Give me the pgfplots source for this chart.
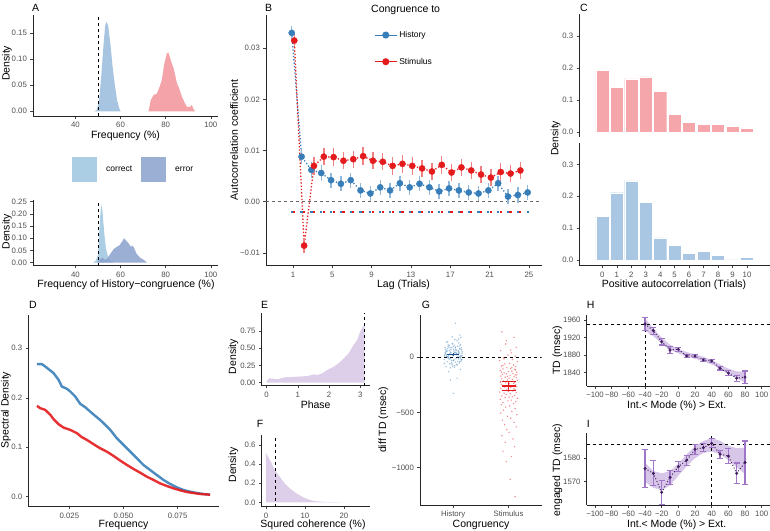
\documentclass[border=0pt]{standalone}
\usepackage{fontspec}
\setmainfont{Liberation Sans}
\setsansfont{Liberation Sans}
\usepackage{pgfplots}
\pgfplotsset{compat=1.18}

\definecolor{histblue}{RGB}{55,126,184}
\definecolor{stimred}{RGB}{228,26,28}
\definecolor{afblue}{RGB}{167,196,224}
\definecolor{afred}{RGB}{244,163,168}
\definecolor{corrc}{RGB}{172,206,229}
\definecolor{errc}{RGB}{138,160,205}
\definecolor{cred}{RGB}{244,166,170}
\definecolor{cblue}{RGB}{169,198,226}
\definecolor{purpfill}{RGB}{221,207,233}
\definecolor{purpband}{RGB}{216,198,233}
\definecolor{purperr}{RGB}{160,118,200}
\definecolor{purpdark}{RGB}{62,30,92}
\definecolor{ticktext}{RGB}{77,77,77}
\definecolor{histdark}{RGB}{30,80,140}

\newcommand\ttl{\fontsize{10.5}{12}\selectfont}

\pgfplotsset{gg/.style={
  scale only axis, anchor=south west,
  axis lines=left,
  axis line style={-, line width=0.6pt, black!85},
  tick style={line width=0.5pt, black!75},
  tick align=outside,
  major tick length=2.6pt,
  scaled ticks=false,
  tick label style={font=\fontsize{7.8}{9}\selectfont, text=ticktext},
  /pgf/number format/assume math mode=true,
  /pgf/number format/1000 sep={},
}}

\begin{document}
\begin{tikzpicture}
\useasboundingbox (0pt,0pt) rectangle (770pt,530pt);

% ---------------- A top
\begin{axis}[gg, at={(33pt,414pt)}, width=185pt, height=101pt,
  xmin=21.2, xmax=103.2, ymin=-0.009, ymax=0.185,
  xtick={40,60,80,100}, xticklabels={40,60,80,100},
  ytick={0,0.05,0.1,0.15}, yticklabels={0.00,0.05,0.10,0.15}]
\addplot[fill=afblue, draw=none] coordinates {(48.4,0) (49.5,0.003) (50.5,0.02) (51.5,0.07) (52.5,0.13) (53.2,0.165) (53.8,0.172) (54.5,0.165) (55.5,0.13) (56.5,0.085) (57.5,0.05) (58.5,0.02) (59.5,0.005) (60,0)} \closedcycle;
\addplot[fill=afred, draw=none] coordinates {(72.4,0) (73.4,0.0217) (74.6,0.031) (76.1,0.034) (77.3,0.047) (78.3,0.060) (79.3,0.089) (80.5,0.111) (81.2,0.113) (82,0.102) (82.7,0.092) (83.5,0.083) (84.2,0.070) (85,0.054) (86,0.044) (87.2,0.028) (88.2,0.0185) (89.4,0.0088) (90.6,0.0081) (91.6,0.012) (92.3,0.0046) (93.1,0)} \closedcycle;
\addplot[dashed, line width=0.6pt] coordinates {(50,-0.009) (50,0.185)};
\end{axis}

% ---------------- A bottom
\begin{axis}[gg, at={(33pt,264.4pt)}, width=185pt, height=65.6pt,
  xmin=21.2, xmax=103.2, ymin=-0.0123, ymax=0.257,
  xtick={40,60,80,100}, xticklabels={40,60,80,100},
  ytick={0,0.05,0.1,0.15,0.2,0.25}, yticklabels={0.00,0.05,0.10,0.15,0.20,0.25},
  legend columns=2,
  legend style={draw=none, fill=none, at={(0.211,1.655)}, anchor=north west,
    font=\fontsize{8.5}{10}\selectfont, column sep=7pt, inner sep=0pt},
  legend image code/.code={\fill[#1] (0pt,-12.5pt) rectangle (25pt,12.5pt);}]
\addplot[fill=corrc, draw=none, forget plot] coordinates {(47.8,0) (49,0.008) (50,0.03) (50.7,0.15) (51.4,0.242) (52,0.21) (52.8,0.12) (53.5,0.06) (54.3,0.03) (55,0.015) (56,0.005) (57,0)} \closedcycle;
\addplot[fill=errc, fill opacity=0.85, draw=none, forget plot] coordinates {(49.5,0) (51,0.015) (52,0.02) (53.2,0.012) (54,0.015) (55.4,0.035) (56.9,0.055) (58.4,0.065) (59.4,0.07) (60.6,0.085) (61.6,0.10) (62.5,0.09) (63.5,0.08) (64.6,0.065) (65.3,0.07) (66,0.06) (67.2,0.035) (68.7,0.02) (70.5,0.01) (71.7,0)} \closedcycle;
\addplot[dashed, line width=0.6pt, forget plot] coordinates {(50,-0.0123) (50,0.257)};
\addlegendimage{fill=corrc, draw=none}
\addlegendentry{correct}
\addlegendimage{fill=errc, fill opacity=0.85, draw=none}
\addlegendentry{error}
\end{axis}

% ---------------- B
\begin{axis}[gg, at={(266pt,264.3pt)}, width=275.7pt, height=250.7pt,
  xmin=-1.75, xmax=26.3, ymin=-0.01252, ymax=0.0365,
  xtick={1,5,9,13,17,21,25},
  ytick={-0.01,0,0.01,0.02,0.03}, yticklabels={−0.01,0.00,0.01,0.02,0.03},
  legend cell align=left,
  legend style={draw=none, fill=none, at={(0.392,0.944)}, anchor=north west,
    font=\fontsize{8.5}{10}\selectfont, row sep=15pt, inner sep=0pt},
  legend image code/.code={\draw[mark repeat=2,mark phase=2,#1] plot coordinates {(0pt,0pt) (11pt,0pt) (22pt,0pt)};}]
\addplot[dashed, black!60, line width=0.8pt, forget plot] coordinates {(-1.75,0) (26.3,0)};
% significance markers
\addplot[only marks, histblue, mark=-, mark size=1.1pt, mark options={line width=1.6pt}, forget plot] coordinates {(0.87,-0.002) (1.87,-0.002) (2.87,-0.002) (3.87,-0.002) (4.87,-0.002) (5.87,-0.002) (6.87,-0.002) (7.87,-0.002) (8.87,-0.002) (9.87,-0.002) (10.87,-0.002) (11.87,-0.002) (12.87,-0.002) (13.87,-0.002) (14.87,-0.002) (15.87,-0.002) (16.87,-0.002) (17.87,-0.002) (18.87,-0.002) (19.87,-0.002) (20.87,-0.002) (21.87,-0.002) (22.87,-0.002) (23.87,-0.002) (24.87,-0.002)};
\addplot[only marks, stimred, mark=-, mark size=1.1pt, mark options={line width=1.6pt}, forget plot] coordinates {(1.13,-0.002) (2.13,-0.002) (3.13,-0.002) (4.13,-0.002) (5.13,-0.002) (6.13,-0.002) (7.13,-0.002) (8.13,-0.002) (9.13,-0.002) (10.13,-0.002) (11.13,-0.002) (12.13,-0.002) (13.13,-0.002) (14.13,-0.002) (15.13,-0.002) (16.13,-0.002) (17.13,-0.002) (18.13,-0.002) (19.13,-0.002) (20.13,-0.002) (21.13,-0.002) (22.13,-0.002) (23.13,-0.002) (24.13,-0.002)};
% connecting dotted lines
\addplot[histblue, dotted, line width=1.3pt, forget plot] table {
0.87 0.0330
1.87 0.0088
2.87 0.0062
3.87 0.0056
4.87 0.0042
5.87 0.0035
6.87 0.0042
7.87 0.0022
8.87 0.0016
9.87 0.0028
10.87 0.0022
11.87 0.0036
12.87 0.0028
13.87 0.0035
14.87 0.0028
15.87 0.0020
16.87 0.0026
17.87 0.0022
18.87 0.0018
19.87 0.0016
20.87 0.0022
21.87 0.0036
22.87 0.0010
23.87 0.0013
24.87 0.0018
};
\addplot[stimred, dotted, line width=1.3pt, forget plot] table {
1.13 0.0315
2.13 -0.0086
3.13 0.0070
4.13 0.0088
5.13 0.0087
6.13 0.0080
7.13 0.0083
8.13 0.0089
9.13 0.0080
10.13 0.0078
11.13 0.0070
12.13 0.0074
13.13 0.0070
14.13 0.0065
15.13 0.0059
16.13 0.0072
17.13 0.0057
18.13 0.0067
19.13 0.0061
20.13 0.0053
21.13 0.0047
22.13 0.0058
23.13 0.0055
24.13 0.0061
};
% points with error bars
\addplot[only marks, histblue, mark=*, mark size=3.1pt, forget plot,
  error bars/.cd, y dir=both, y explicit, error mark=none,
  error bar style={line width=1.4pt, histblue!55}] table[y error index=2] {
0.87 0.0330 0.0013
1.87 0.0088 0.0015
2.87 0.0062 0.0015
3.87 0.0056 0.0015
4.87 0.0042 0.0015
5.87 0.0035 0.0015
6.87 0.0042 0.0015
7.87 0.0022 0.0015
8.87 0.0016 0.0015
9.87 0.0028 0.0015
10.87 0.0022 0.0015
11.87 0.0036 0.0015
12.87 0.0028 0.0015
13.87 0.0035 0.0015
14.87 0.0028 0.0015
15.87 0.0020 0.0015
16.87 0.0026 0.0015
17.87 0.0022 0.0015
18.87 0.0018 0.0015
19.87 0.0016 0.0015
20.87 0.0022 0.0015
21.87 0.0036 0.0015
22.87 0.0010 0.0015
23.87 0.0013 0.0015
24.87 0.0018 0.0015
};
\addplot[only marks, stimred, mark=*, mark size=3.1pt, forget plot,
  error bars/.cd, y dir=both, y explicit, error mark=none,
  error bar style={line width=1.4pt, stimred!55}] table[y error index=2] {
1.13 0.0315 0.0013
2.13 -0.0086 0.0015
3.13 0.0070 0.0017
4.13 0.0088 0.0017
5.13 0.0087 0.0017
6.13 0.0080 0.0017
7.13 0.0083 0.0017
8.13 0.0089 0.0017
9.13 0.0080 0.0017
10.13 0.0078 0.0017
11.13 0.0070 0.0017
12.13 0.0074 0.0017
13.13 0.0070 0.0017
14.13 0.0065 0.0017
15.13 0.0059 0.0017
16.13 0.0072 0.0017
17.13 0.0057 0.0017
18.13 0.0067 0.0017
19.13 0.0061 0.0017
20.13 0.0053 0.0017
21.13 0.0047 0.0017
22.13 0.0058 0.0017
23.13 0.0055 0.0017
24.13 0.0061 0.0017
};
\addlegendimage{histblue, line width=1pt, mark=*, mark size=3pt}
\addlegendentry{History}
\addlegendimage{stimred, line width=1pt, mark=*, mark size=3pt}
\addlegendentry{Stimulus}
\end{axis}

% ---------------- C top
\begin{axis}[gg, axis x line=none, xtick=\empty, at={(579.3pt,392.5pt)}, width=190.7pt, height=123pt,
  xmin=-1.59, xmax=11.59, ymin=-0.018, ymax=0.368,
  ytick={0,0.1,0.2,0.3}, yticklabels={0.0,0.1,0.2,0.3}]
\addplot[ybar, bar width=0.9, fill=cred, draw=white, line width=0.4pt] coordinates {(0,0.192) (1,0.140) (2,0.166) (3,0.172) (4,0.127) (5,0.055) (6,0.029) (7,0.023) (8,0.023) (9,0.017) (10,0.010)};
\end{axis}
% ---------------- C bottom
\begin{axis}[gg, at={(579.3pt,264.3pt)}, width=190.7pt, height=123pt,
  xmin=-1.59, xmax=11.59, ymin=-0.018, ymax=0.368,
  xtick={0,1,2,3,4,5,6,7,8,9,10},
  ytick={0,0.1,0.2,0.3}, yticklabels={0.0,0.1,0.2,0.3}]
\addplot[ybar, bar width=0.9, fill=cblue, draw=white, line width=0.4pt] coordinates {(0,0.137) (1,0.211) (2,0.248) (3,0.181) (4,0.069) (5,0.045) (6,0.020) (7,0.026) (8,0.015) (9,0) (10,0.008)};
\end{axis}

% ---------------- D
\begin{axis}[gg, at={(28.3pt,23.3pt)}, width=190.4pt, height=191.7pt,
  xmin=0.006, xmax=0.094, ymin=-0.0202, ymax=0.3673,
  xtick={0.025,0.05,0.075}, xticklabels={0.025,0.050,0.075},
  ytick={0,0.1,0.2,0.3}, yticklabels={0.0,0.1,0.2,0.3}]
\addplot[histblue, line width=2.4pt, opacity=0.9] coordinates {(0.0100,0.2680) (0.0123,0.2680) (0.0138,0.2632) (0.0162,0.2551) (0.0177,0.2497) (0.0200,0.2362) (0.0215,0.2227) (0.0239,0.2180) (0.0254,0.2126) (0.0277,0.2025) (0.0300,0.1877) (0.0323,0.1809) (0.0346,0.1721) (0.0369,0.1634) (0.0392,0.1553) (0.0416,0.1451) (0.0439,0.1350) (0.0469,0.1182) (0.0500,0.1047) (0.0531,0.0911) (0.0562,0.0777) (0.0592,0.0642) (0.0623,0.0540) (0.0654,0.0439) (0.0685,0.0338) (0.0716,0.0257) (0.0746,0.0190) (0.0777,0.0136) (0.0808,0.0102) (0.0839,0.0075) (0.0869,0.0055) (0.0900,0.0041)};
\addplot[stimred, line width=2.4pt, opacity=0.9] coordinates {(0.0100,0.1836) (0.0115,0.1789) (0.0138,0.1755) (0.0162,0.1654) (0.0177,0.1566) (0.0200,0.1465) (0.0223,0.1397) (0.0254,0.1350) (0.0285,0.1283) (0.0308,0.1202) (0.0331,0.1148) (0.0362,0.1060) (0.0392,0.0979) (0.0423,0.0911) (0.0454,0.0824) (0.0485,0.0729) (0.0516,0.0642) (0.0546,0.0561) (0.0577,0.0486) (0.0608,0.0405) (0.0639,0.0338) (0.0669,0.0270) (0.0700,0.0217) (0.0731,0.0169) (0.0762,0.0129) (0.0793,0.0095) (0.0823,0.0075) (0.0854,0.0055) (0.0900,0.0041)};
\end{axis}

% ---------------- E
\begin{axis}[gg, at={(261.7pt,144.4pt)}, width=107.8pt, height=72.3pt,
  xmin=-0.157, xmax=3.298, ymin=-0.042, ymax=1.009,
  xtick={0,1,2,3}, ytick={0,0.25,0.5,0.75}, yticklabels={0.00,0.25,0.50,0.75}]
\addplot[fill=purpfill, draw=none] coordinates {(0,0.03) (0.01,0.025) (0.08,0.063) (0.24,0.058) (0.35,0.049) (0.56,0.078) (0.99,0.088) (1.31,0.097) (1.52,0.122) (1.62,0.112) (1.78,0.136) (1.94,0.185) (2.15,0.233) (2.31,0.282) (2.47,0.354) (2.63,0.427) (2.74,0.514) (2.90,0.620) (3.00,0.742) (3.09,0.824) (3.1416,0.839)} \closedcycle;
\addplot[dashed, line width=0.6pt] coordinates {(3.1416,-0.042) (3.1416,1.009)};
\end{axis}

% ---------------- F
\begin{axis}[gg, at={(261.7pt,23.3pt)}, width=108.3pt, height=71.7pt,
  xmin=-1.1, xmax=26.7, ymin=-0.046, ymax=0.708,
  xtick={0,10,20}, ytick={0,0.2,0.4,0.6}, yticklabels={0.0,0.2,0.4,0.6}]
\addplot[fill=purpfill, draw=none] coordinates {(0,0.52) (1,0.445) (2.3,0.34) (3.5,0.27) (4.8,0.20) (6.1,0.147) (7.8,0.095) (9.6,0.053) (11.3,0.024) (13,0.01) (15.6,0.003) (20,0)} \closedcycle;
\addplot[dashed, line width=0.6pt] coordinates {(2.5,-0.046) (2.5,0.708)};
\end{axis}

% ---------------- G
\begin{axis}[gg, at={(420pt,25pt)}, width=121.7pt, height=190pt,
  xmin=0.4, xmax=2.6, ymin=-1338, ymax=383,
  xtick={1,2}, xticklabels={History,Stimulus},
  ytick={-1000,-500,0}, yticklabels={−1000,−500,0}]
\addplot[dashed, line width=0.6pt] coordinates {(0.4,0) (2.6,0)};
\addplot[only marks, mark=*, mark size=0.8pt, histblue, mark options={draw opacity=0, fill opacity=0.5}] coordinates {
(0.88,12) (1.05,45) (1.15,-20) (0.97,88) (1.09,30) (0.84,-55) (1.02,110) (1.11,5) (0.93,60) (1.14,-35)
(0.90,140) (1.00,20) (1.07,-70) (0.86,35) (1.12,75) (0.95,-10) (1.16,50) (0.91,95) (1.04,-45) (0.99,15)
(1.10,130) (0.87,-85) (1.06,25) (0.96,70) (1.13,-5) (0.89,55) (1.01,-25) (1.08,100) (0.85,10) (1.03,40)
(0.94,-60) (1.15,85) (0.92,0) (1.10,-15) (0.98,120) (1.05,65) (0.87,28) (1.12,-40) (0.90,80) (1.02,-90)
(1.16,18) (0.95,48) (1.07,150) (0.84,-20) (1.11,38) (0.97,-50) (1.04,92) (0.88,62) (1.14,8) (1.00,-30)
(0.93,105) (1.09,22) (0.86,72) (1.06,-65) (0.96,42) (1.13,115) (0.91,-8) (1.01,58) (1.08,3) (0.89,-40)
(1.15,68) (0.94,33) (1.03,-75) (0.99,125) (1.10,52) (0.85,90) (1.05,-12) (0.92,14) (1.12,78) (0.97,-28)
(1.02,46) (0.88,135) (1.07,26) (0.95,-95) (1.16,36) (0.90,2) (1.04,84) (1.11,-52) (0.86,44) (1.00,98)
(0.93,-18) (1.09,60) (1.14,16) (0.98,-62) (1.06,32) (0.91,112) (1.13,-2) (0.87,54) (1.01,74) (1.08,-38)
(0.96,24) (1.03,160) (0.89,6) (1.15,-22) (0.94,86) (1.10,40) (0.99,-80) (1.05,66) (0.84,20) (1.12,102)
(1.04,308) (1.12,202) (1.14,180) (1.10,165) (0.95,-205) (1.07,-190) (1.00,-326) (0.92,-130) (1.13,-110) (0.98,185)
};
\addplot[only marks, mark=*, mark size=0.8pt, stimred, mark options={draw opacity=0, fill opacity=0.5}] coordinates {
(1.88,230) (2.10,180) (1.95,120) (2.14,90) (1.86,60) (2.05,40) (1.99,20) (2.12,10) (1.91,-5) (2.07,-20)
(1.84,-30) (2.16,-40) (2.02,-55) (1.93,-60) (2.09,-70) (1.87,-80) (2.13,-85) (1.97,-95) (2.04,-100) (1.90,-105)
(2.11,-110) (1.85,-118) (2.06,-125) (2.00,-130) (2.15,-135) (1.92,-140) (2.08,-148) (1.96,-150) (1.89,-155) (2.12,-160)
(2.03,-165) (1.86,-170) (2.10,-175) (1.94,-180) (2.14,-185) (2.01,-190) (1.88,-195) (2.07,-200) (1.98,-205) (2.16,-210)
(1.91,-215) (2.05,-220) (1.85,-225) (2.11,-228) (1.95,-232) (2.09,-236) (2.02,-240) (1.87,-245) (2.13,-250) (1.99,-255)
(2.06,-258) (1.90,-262) (2.15,-266) (1.93,-270) (2.04,-275) (1.86,-280) (2.10,-285) (1.97,-290) (2.12,-295) (1.89,-300)
(2.08,-305) (2.00,-310) (1.84,-315) (2.14,-320) (1.92,-325) (2.03,-330) (1.96,-338) (2.11,-345) (1.88,-350) (2.07,-358)
(1.94,-365) (2.16,-372) (1.85,-380) (2.05,-388) (1.99,-395) (2.13,-402) (1.90,-410) (2.09,-420) (1.87,-430) (2.02,-440)
(1.95,-452) (2.12,-465) (1.91,-478) (2.06,-490) (1.86,-505) (2.15,-520) (1.98,-535) (2.04,-552) (1.89,-570) (2.10,-590)
(1.93,-610) (2.14,-630) (1.97,-655) (2.01,-680) (1.88,-710) (2.08,-740) (1.94,-770) (2.11,-810) (1.90,-850) (2.05,-900)
(1.96,-945) (2.03,-1105) (2.12,-1262) (1.92,-15) (2.06,-90) (1.87,-135) (2.13,-115) (1.98,-175) (2.09,-262) (1.86,-220)
(2.01,-360) (1.94,-300) (2.15,-160) (1.90,-75) (2.04,65) (1.96,150)
};
\addplot[only marks, histdark, mark=-, mark size=6pt, mark options={line width=1.4pt},
  error bars/.cd, y dir=both, y explicit, error mark=none, error bar style={line width=1.2pt}] coordinates {(1,25) +- (0,12)};
\addplot[only marks, stimred, mark=-, mark size=7pt, mark options={line width=1.6pt},
  error bars/.cd, y dir=both, y explicit, error bar style={line width=1.2pt}] coordinates {(2,-258) +- (0,40)};
\end{axis}

% ---------------- H
\begin{axis}[gg, at={(586.7pt,144pt)}, width=183.3pt, height=71pt,
  xmin=-110, xmax=110, ymin=1809.8, ymax=1971.4,
  xtick={-100,-80,-60,-40,-20,0,20,40,60,80,100},
  xticklabels={−100,−80,−60,−40,−20,0,20,40,60,80,100},
  ytick={1840,1880,1920,1960}, yticklabels={1840,1880,1920,1960}]
\addplot[fill=purpband, draw=none] coordinates {(-40,1964) (-30,1941) (-20,1920) (-10,1904) (0,1894) (10,1887) (20,1882) (30,1876) (40,1869) (50,1859) (60,1849) (70,1843) (80,1842) (80,1818) (70,1827) (60,1837) (50,1849) (40,1859) (30,1866) (20,1872) (10,1877) (0,1884) (-10,1892) (-20,1906) (-30,1923) (-40,1936)} -- cycle;
\addplot[dashed, line width=0.6pt] coordinates {(-110,1951) (110,1951)};
\addplot[dashed, line width=0.6pt] coordinates {(-40,1809.8) (-40,1971.4)};
\addplot[purpdark, dotted, line width=1pt] coordinates {(-40,1951) (-30,1935.7) (-20,1910.7) (-10,1891.8) (0,1893.4) (10,1878.2) (20,1878) (30,1869) (40,1866.8) (50,1850) (60,1839) (70,1827.5) (80,1830)};
\addplot[only marks, purpdark, mark=*, mark size=1.3pt,
  error bars/.cd, y dir=both, y explicit,
  error bar style={line width=1.1pt, purperr},
  error mark options={line width=1.1pt, purperr, mark size=3pt, rotate=90}] table[y error index=2] {
-40 1951 15
-30 1935.7 8
-20 1910.7 7.5
-10 1891.8 7.5
0 1893.4 5
10 1878.2 3.8
20 1878 3.8
30 1869 3.8
40 1866.8 3.8
50 1850 3.8
60 1839 6
70 1827.5 7
80 1830 14
};
\end{axis}

% ---------------- I
\begin{axis}[gg, at={(586.7pt,25pt)}, width=183.3pt, height=71.7pt,
  xmin=-110, xmax=110, ymin=1560.3, ymax=1590.2,
  xtick={-100,-80,-60,-40,-20,0,20,40,60,80,100},
  xticklabels={−100,−80,−60,−40,−20,0,20,40,60,80,100},
  ytick={1560,1570,1580}, yticklabels={1560,1570,1580}]
\addplot[fill=purpband, draw=none] coordinates {(-40,1578) (-30,1574.5) (-20,1573.5) (-10,1574.5) (0,1577.5) (10,1581.5) (20,1584.8) (30,1587) (40,1588.2) (50,1587.1) (60,1585) (70,1584) (80,1584.2) (80,1573.2) (70,1576) (60,1579) (50,1581.5) (40,1582.6) (30,1582) (20,1579.8) (10,1576.5) (0,1572.5) (-10,1568.5) (-20,1566.5) (-30,1567.5) (-40,1570)} -- cycle;
\addplot[dashed, line width=0.6pt] coordinates {(-110,1585.6) (110,1585.6)};
\addplot[dashed, line width=0.6pt] coordinates {(40,1560.3) (40,1590.2)};
\addplot[purpdark, dotted, line width=1pt] coordinates {(-40,1575.5) (-30,1573.5) (-20,1565.6) (-10,1571.8) (0,1576.3) (10,1579) (20,1583.5) (30,1584.2) (40,1586) (50,1581.5) (60,1580.7) (70,1573.5) (80,1578)};
\addplot[only marks, purpdark, mark=*, mark size=1.3pt,
  error bars/.cd, y dir=both, y explicit,
  error bar style={line width=1.1pt, purperr},
  error mark options={line width=1.1pt, purperr, mark size=3pt, rotate=90}] table[y error index=2] {
-40 1575.5 7.8
-30 1573.5 5.2
-20 1565.6 5
-10 1571.8 3
0 1576.3 2.2
10 1579 2.1
20 1583.5 2
30 1584.2 1.6
40 1586 1.9
50 1581.5 1.7
60 1580.7 3.1
70 1573.5 4.3
80 1578 9
};
\end{axis}

% ---------------- titles and labels
\begin{scope}[every node/.style={font=\ttl, inner sep=0pt}]
\node[anchor=base west] at (32pt,518.5pt) {A};
\node[anchor=base west] at (265pt,518.5pt) {B};
\node[anchor=base west] at (580pt,518.5pt) {C};
\node[anchor=base west] at (29pt,221.5pt) {D};
\node[anchor=base west] at (261pt,221.5pt) {E};
\node[anchor=base west] at (256.7pt,103pt) {F};
\node[anchor=base west] at (421.7pt,221.5pt) {G};
\node[anchor=base west] at (586.7pt,221.5pt) {H};
\node[anchor=base west] at (586.7pt,103pt) {I};
\node[anchor=base west] at (371pt,517pt) {Congruence to};

\node[rotate=90] at (7pt,466.7pt) {Density};
\node at (125.5pt,394.5pt) {Frequency (\%)};
\node[rotate=90] at (7pt,298pt) {Density};
\node at (126pt,245pt) {Frequency of History−congruence (\%)};
\node[rotate=90] at (234pt,390pt) {Autocorrelation coefficient};
\node at (403.5pt,245pt) {Lag (Trials)};
\node[rotate=90] at (555.7pt,391.7pt) {Density};
\node at (674pt,245pt) {Positive autocorrelation (Trials)};
\node[rotate=90] at (6pt,120pt) {Spectral Density};
\node at (123.5pt,5pt) {Frequency};
\node[rotate=90] at (233.3pt,173.3pt) {Density};
\node at (315.7pt,125pt) {Phase};
\node[rotate=90] at (233.3pt,65pt) {Density};
\node at (313pt,5pt) {Squred coherence (\%)};
\node[rotate=90] at (383.3pt,110pt) {diff TD (msec)};
\node at (481pt,5pt) {Congruency};
\node[rotate=90] at (557.3pt,180pt) {TD (msec)};
\node at (676.7pt,124pt) {Int.< Mode (\%) > Ext.};
\node[rotate=90] at (557.3pt,60pt) {engaged TD (msec)};
\node at (676.7pt,5pt) {Int.< Mode (\%) > Ext.};
\end{scope}
\end{tikzpicture}
\end{document}
